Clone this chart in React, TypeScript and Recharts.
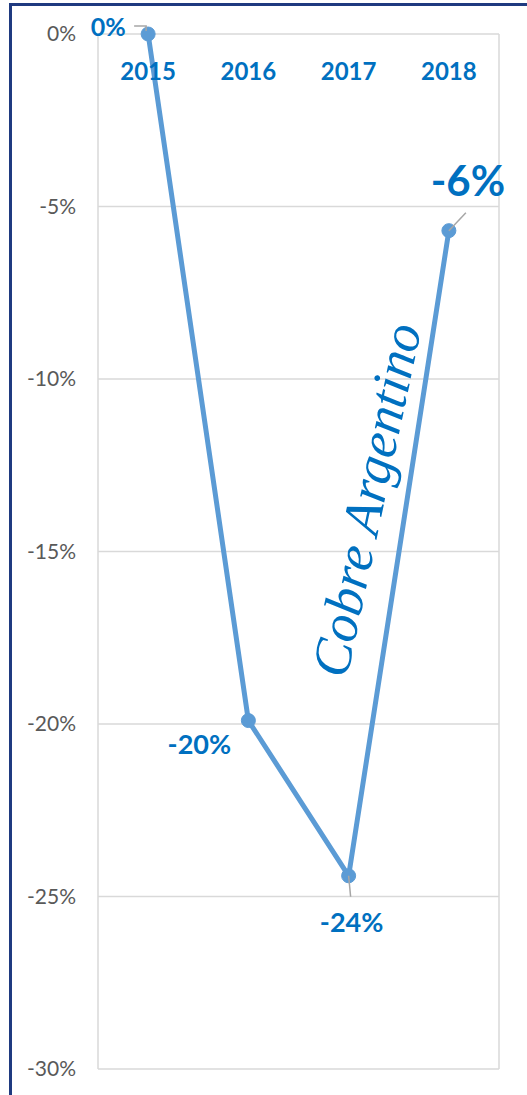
import React from "react";
import { LineChart, Line, XAxis, YAxis, CartesianGrid, LabelList } from "recharts";

const years = ["2015", "2016", "2017", "2018"];
const changes = [0, -0.199, -0.244, -0.057];
const labels = ["0%", "-20%", "-24%", "-6%"];
const yTicks = [-0.3, -0.25, -0.2, -0.15, -0.1, -0.05, 0];
const gridTicks = [0, 1, 2, 3, 4];
const yearTicks = [0.5, 1.5, 2.5, 3.5];

const data = years.map((year, i) => ({ x: i + 0.5, year, value: changes[i], label: labels[i] }));

const BLUE = "#0070C0";
const LINE = "#5B9BD5";
const NAVY = "#1f3a80";
const FONT = "Lato, 'Open Sans', sans-serif";

// label placement relative to each point
const labelStyle = [
  { dx: -40, dy: 2, size: 25, leader: "-14,-8 -2,-8 -2,-3" },
  { dx: -49, dy: 33, size: 27, leader: "" },
  { dx: 3, dy: 56, size: 27, leader: "0,0 2,21" },
  { dx: 19, dy: -35, size: 42, leader: "0,0 17,-18" },
];

const YearTick = (props: any) => {
  const { x, y, payload } = props;
  const idx = Math.floor(Number(payload && payload.value));
  return (
    <text x={x} y={y} dy={46} textAnchor="middle" fill={BLUE} fontFamily={FONT} fontWeight={700} fontSize={24}>
      {years[idx] ?? ""}
    </text>
  );
};

const PointLabel = (props: any) => {
  const { x, y, index, value } = props;
  const s = labelStyle[index];
  if (!s || x == null || y == null) return null;
  return (
    <g>
      {s.leader && (
        <polyline
          points={s.leader}
          transform={`translate(${x},${y})`}
          fill="none"
          stroke="#a6a6a6"
          strokeWidth={1.5}
        />
      )}
      <text x={x + s.dx} y={y + s.dy} textAnchor="middle" fill={BLUE} fontFamily={FONT} fontWeight={700} fontSize={s.size}>
        {value}
      </text>
    </g>
  );
};

export default function App() {
  const cx = 372;
  const cy = 501;
  return (
    <div
      style={{
        position: "absolute",
        left: 0,
        top: 0,
        width: 527,
        height: 1095,
        overflow: "hidden",
        background: "#fff",
      }}
    >
      <div style={{ position: "absolute", left: 0, top: 0 }}>
        <LineChart width={527} height={1095} data={data} margin={{ top: 33, right: 28, bottom: 26, left: 0 }}>
          <CartesianGrid xAxisId="grid" stroke="#d9d9d9" strokeWidth={1.5} />
          <XAxis
            xAxisId="grid"
            type="number"
            dataKey="x"
            domain={[0, 4]}
            ticks={gridTicks}
            height={0}
            tick={false}
            axisLine={false}
            tickLine={false}
          />
          <XAxis
            xAxisId="cat"
            type="number"
            dataKey="x"
            domain={[0, 4]}
            ticks={yearTicks}
            interval={0}
            orientation="top"
            height={1}
            tickSize={0}
            tickMargin={0}
            axisLine={false}
            tickLine={false}
            tick={<YearTick />}
          />
          <YAxis
            type="number"
            domain={[-0.3, 0]}
            ticks={yTicks}
            interval={0}
            width={98}
            tickSize={0}
            tickMargin={22}
            axisLine={false}
            tickLine={false}
            tickFormatter={(v: number) => `${Math.round(v * 100)}%`}
            tick={{ fill: "#595959", fontSize: 21, fontFamily: FONT }}
          />
          <Line
            xAxisId="cat"
            dataKey="value"
            stroke={LINE}
            strokeWidth={5}
            dot={{ r: 7, fill: LINE, stroke: LINE, strokeWidth: 1 }}
            activeDot={false}
            isAnimationActive={false}
          >
            <LabelList dataKey="label" content={<PointLabel />} />
          </Line>
        </LineChart>
      </div>
      <svg width={527} height={1095} style={{ position: "absolute", left: 0, top: 0, pointerEvents: "none" }}>
        <rect x={9} y={3} width={518} height={3} fill={NAVY} />
        <rect x={9} y={3} width={3} height={1092} fill={NAVY} />
        <text
          x={cx}
          y={cy}
          transform={`rotate(-78 ${cx} ${cy})`}
          textAnchor="middle"
          dominantBaseline="middle"
          fill={BLUE}
          fontFamily="'Liberation Serif', 'Times New Roman', serif"
          fontStyle="italic"
          fontSize={54}
        >
          Cobre Argentino
        </text>
      </svg>
    </div>
  );
}
